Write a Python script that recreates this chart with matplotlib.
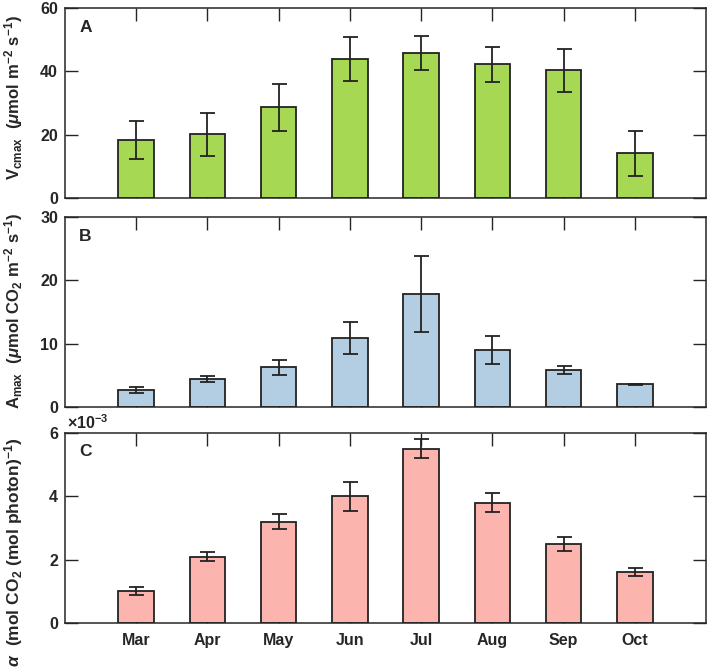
import matplotlib
matplotlib.use("Agg")
import matplotlib.pyplot as plt
import numpy as np

months = ["Mar", "Apr", "May", "Jun", "Jul", "Aug", "Sep", "Oct"]
vcmax = [18.3, 20.1, 28.6, 43.9, 45.8, 42.2, 40.3, 14.1]
vcmax_err = [5.9, 6.8, 7.4, 6.8, 5.4, 5.6, 6.8, 7.0]
amax = [2.7, 4.4, 6.3, 10.9, 17.9, 9.0, 5.8, 3.6]
amax_err = [0.45, 0.45, 1.2, 2.6, 6.0, 2.2, 0.6, 0.1]
alpha = [1.01, 2.1, 3.2, 4.0, 5.5, 3.8, 2.5, 1.61]   # x 1e-3
alpha_err = [0.14, 0.14, 0.23, 0.45, 0.3, 0.3, 0.23, 0.12]

plt.rcParams['font.family'] = ['Liberation Sans', 'DejaVu Sans']
plt.rcParams['font.weight'] = 'bold'
plt.rcParams['mathtext.fontset'] = 'custom'
plt.rcParams['mathtext.rm'] = 'Liberation Sans:bold'
plt.rcParams['mathtext.bf'] = 'Liberation Sans:bold'
plt.rcParams['mathtext.it'] = 'Liberation Sans:italic'
plt.rcParams['mathtext.default'] = 'rm'

W, H = 709, 670
fig = plt.figure(figsize=(W / 100, H / 100), dpi=100)

axcol = '#262626'

def px_axes(left, top, right, bottom):
    return fig.add_axes([left / W, 1 - bottom / H, (right - left) / W, (bottom - top) / H])

panels = [
    (8, 198, vcmax, vcmax_err, '#a6d854', (0, 60), [0, 20, 40, 60], 'A',
     r'$V_{cmax}\ \ (\mathit{\mu}mol\ m^{-2}\ s^{-1})$', 98, 12),
    (217, 407, amax, amax_err, '#b3cde3', (0, 30), [0, 10, 20, 30], 'B',
     r'$A_{max}\ \ (\mathit{\mu}mol\ CO_2\ m^{-2}\ s^{-1})$', 311, 12),
    (433, 623, alpha, alpha_err, '#fbb4ae', (0, 6), [0, 2, 4, 6], 'C',
     r'$\mathit{\alpha}\ \ (mol\ CO_2\ (mol\ photon)^{-1})$', 552, 12.5),
]

x = np.arange(1, len(months) + 1)
for i, (top, bot, vals, errs, col, ylim, yt, letter, ylab, ylab_y, lfs) in enumerate(panels):
    ax = px_axes(65, top, 706, bot)
    ax.bar(x, vals, width=0.5, color=col, edgecolor='#222222', linewidth=1.3, zorder=2)
    ax.errorbar(x, vals, yerr=errs, fmt='none', ecolor='#222222', elinewidth=1.3,
                capsize=5.4, capthick=1.3, zorder=3)
    ax.set_xlim(0, 9)
    ax.set_ylim(*ylim)
    ax.set_yticks(yt)
    ax.set_xticks(x)
    if i == 2:
        ax.set_xticklabels(months)
    else:
        ax.set_xticklabels([])
    ax.tick_params(direction='in', length=9.5, width=1.0, color=axcol,
                   top=True, right=True, labelsize=11.5, labelcolor='#262626', pad=5)
    ax.tick_params(axis='x', pad=7)
    for s in ax.spines.values():
        s.set_color(axcol)
        s.set_linewidth(1.1)
    ax.text(0.022, 0.9, letter, transform=ax.transAxes, fontsize=12.5,
            fontweight='bold', color='#262626', va='center', ha='left')
    fig.text(14 / W, 1 - ylab_y / H, ylab, rotation=90, fontsize=lfs,
             ha='center', va='center', color='#262626')
    if i == 2:
        ax.text(0.003, 1.005, r'$\times10^{-3}$', transform=ax.transAxes,
                fontsize=11.5, ha='left', va='bottom', color='#262626')

fig.savefig('out.png', dpi=100)
